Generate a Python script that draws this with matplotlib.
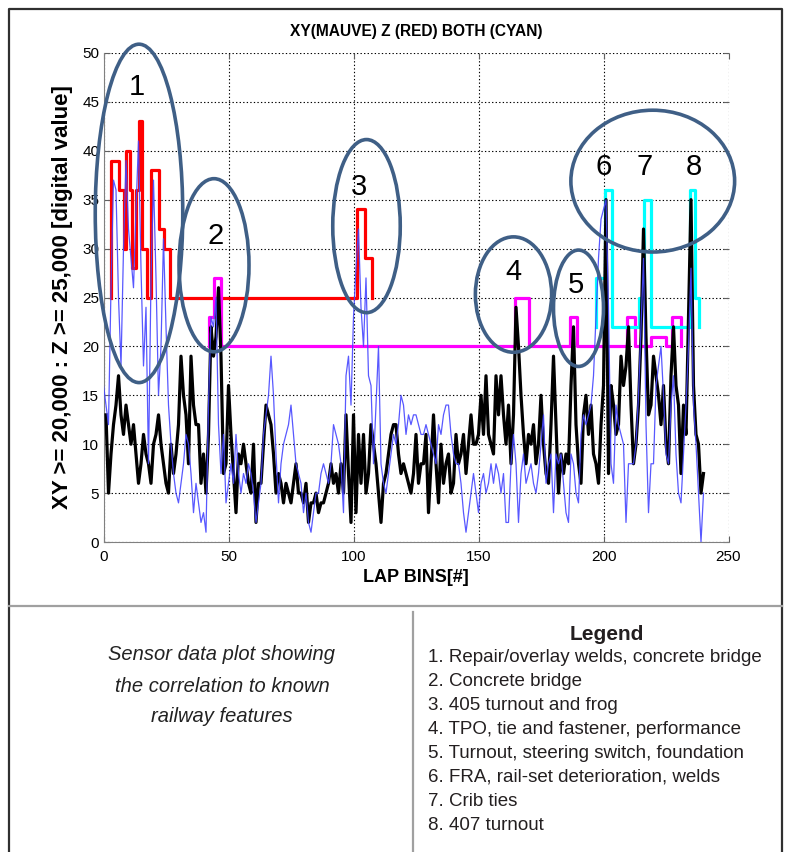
import numpy as np
import matplotlib
matplotlib.use('Agg')
import matplotlib.pyplot as plt
from matplotlib.patches import Ellipse
from matplotlib.lines import Line2D

plt.rcParams['font.family'] = ['Liberation Sans', 'DejaVu Sans']

# black trace (bins 1..240)
black_y = [13, 5, 9, 12, 14, 17, 13, 11, 14, 12,
           10, 12, 9, 6, 8, 11, 9, 8, 6, 10,
           11, 13, 10, 8, 6, 5, 10, 7, 9, 12,
           19, 15, 13, 8, 19, 14, 12, 12, 6, 9,
           5, 11, 22, 19, 21, 26, 19, 7, 8, 16,
           11, 7, 3, 9, 8, 10, 8, 6, 5, 10,
           2, 6, 6, 10, 14, 13, 12, 9, 5, 7,
           6, 4, 6, 5, 4, 6, 8, 5, 5, 4,
           6, 2, 4, 4, 5, 3, 4, 4, 5, 6,
           8, 6, 7, 5, 8, 5, 13, 7, 2, 13,
           3, 11, 6, 11, 5, 7, 12, 10, 8, 5,
           2, 6, 7, 9, 11, 12, 12, 9, 7, 8,
           7, 6, 5, 7, 11, 6, 8, 8, 11, 3,
           8, 13, 8, 4, 10, 6, 8, 9, 5, 6,
           11, 8, 9, 11, 7, 10, 13, 10, 10, 11,
           15, 11, 17, 11, 10, 9, 17, 13, 17, 13,
           10, 14, 8, 13, 24, 20, 15, 11, 8, 11,
           10, 12, 8, 10, 15, 10, 7, 6, 12, 19,
           12, 5, 9, 7, 9, 8, 16, 22, 12, 8,
           6, 13, 15, 11, 14, 9, 8, 6, 12, 16,
           35, 7, 16, 14, 11, 12, 19, 16, 18, 22,
           14, 8, 10, 14, 21, 32, 21, 13, 14, 19,
           17, 15, 12, 16, 10, 8, 17, 22, 16, 14,
           7, 14, 11, 23, 35, 16, 11, 10, 5, 7]
black_x = np.arange(1, len(black_y) + 1)

# thin blue trace (bins 0..240)
blue_y = [16, 14, 12, 26, 37, 36, 25, 18, 30, 39,
          32, 29, 26, 34, 41, 28, 18, 24, 8, 27,
          37, 27, 15, 20, 31, 22, 14, 10, 7, 5,
          4, 6, 8, 11, 10, 7, 3, 6, 4, 2,
          3, 1, 14, 23, 22, 25, 12, 7, 11, 4,
          6, 8, 6, 11, 7, 5, 7, 6, 8, 7,
          5, 2, 4, 6, 11, 13, 15, 19, 15, 9,
          4, 8, 10, 11, 12, 14, 11, 8, 7, 6,
          3, 5, 2, 1, 3, 5, 5, 7, 8, 7,
          6, 8, 12, 11, 10, 8, 3, 17, 19, 14,
          23, 28, 32, 24, 20, 27, 17, 16, 8, 14,
          20, 8, 6, 5, 7, 9, 11, 10, 12, 15,
          14, 11, 13, 12, 13, 13, 12, 11, 11, 12,
          11, 10, 9, 8, 12, 11, 13, 14, 14, 11,
          9, 8, 8, 6, 3, 1, 3, 5, 7, 5,
          3, 6, 7, 5, 6, 8, 6, 8, 7, 5,
          7, 2, 2, 8, 11, 8, 2, 7, 9, 6,
          7, 8, 6, 5, 7, 10, 13, 6, 8, 9,
          3, 9, 8, 9, 6, 3, 2, 9, 8, 5,
          4, 11, 13, 12, 13, 14, 17, 23, 29, 33,
          34, 35, 24, 8, 6, 14, 12, 11, 10, 2,
          8, 8, 8, 10, 15, 22, 29, 12, 3, 8,
          8, 16, 18, 20, 15, 9, 8, 14, 17, 9,
          5, 4, 9, 14, 20, 28, 14, 10, 5, 0, 5]
blue_x = np.arange(0, len(blue_y))

# step thresholds: Z (red), XY (mauve), both (cyan)
red_x = [3, 3, 6, 8, 9, 10.5, 11.5, 13, 14, 15.5, 17.5, 19, 22, 24, 26.5, 101.5, 104.5, 107.5]
red_y = [25, 39, 36, 30, 40, 36, 28, 36, 43, 30, 25, 38, 32, 30, 25, 34, 29, 25]
mag_x = [42, 42, 44, 47, 164.5, 170, 186.5, 189.5, 209.5, 212.5, 219, 225, 227.5, 231]
mag_y = [20, 23, 27, 20, 25, 20, 23, 20, 23, 20, 21, 20, 23, 20]
cyan_x = [197, 197, 200.5, 203.5, 214, 216, 219, 234.5, 236.5, 238]
cyan_y = [22, 27, 36, 22, 25, 35, 22, 36, 25, 22]

# feature ellipses: centre x, centre y, width, height (data units)
feat_ell = [(14.2, 33.6, 35, 34.6), (44.2, 28.3, 28, 17.7), (105.2, 32.3, 27, 17.7),
            (164.0, 25.3, 30.5, 11.8), (190.0, 23.9, 20, 11.9), (219.7, 36.9, 65.5, 14.5)]
num_pos = {'1': (13.5, 46.5), '2': (45, 31.3), '3': (102, 36.3), '4': (164, 27.6),
           '5': (189, 26.3), '6': (200, 38.3), '7': (216.5, 38.3), '8': (236, 38.3)}

title = 'XY(MAUVE) Z (RED) BOTH (CYAN)'
caption = ['Sensor data plot showing', 'the correlation to known', 'railway features']
legend_items = ['1. Repair/overlay welds, concrete bridge', '2. Concrete bridge',
                '3. 405 turnout and frog', '4. TPO, tie and fastener, performance',
                '5. Turnout, steering switch, foundation', '6. FRA, rail-set deterioration, welds',
                '7. Crib ties', '8. 407 turnout']

W, H = 791, 852
fig = plt.figure(figsize=(W / 100, H / 100), dpi=100)
fig.patch.set_facecolor('white')
ax = fig.add_axes([103.5 / W, 1 - 542 / H, 625 / W, 489 / H])

ax.step(red_x, red_y, where='post', color='#ff0000', lw=2.3, zorder=2)
ax.step(mag_x, mag_y, where='post', color='#ff00ff', lw=2.3, zorder=2)
ax.step(cyan_x, cyan_y, where='post', color='#00ffff', lw=2.3, zorder=2)
ax.plot(black_x, black_y, color='black', lw=2.3, zorder=3)
ax.plot(blue_x, blue_y, color='#4646ff', lw=0.9, alpha=0.9, zorder=4)

ax.set_xlim(0, 250)
ax.set_ylim(0, 50)
ax.set_xticks(range(0, 251, 50))
ax.set_yticks(range(0, 51, 5))
ax.grid(True, linestyle=(0, (1.2, 2.0)), color='black', lw=0.8)
ax.set_axisbelow(True)
for s in ['top', 'right']:
    ax.spines[s].set_visible(False)
for s in ['left', 'bottom']:
    ax.spines[s].set_color('#808080')
ax.tick_params(direction='in', length=4, top=True, right=True, labelsize=11, color='#606060', pad=3)
ax.tick_params(axis='x', pad=6)

ax.set_title(title, fontsize=11.2, fontweight='bold', pad=12)
ax.set_xlabel('LAP BINS[#]', fontsize=13, fontweight='bold', labelpad=3)
ax.set_ylabel('XY >= 20,000 : Z >= 25,000 [digital value]', fontsize=16, fontweight='bold', labelpad=7)

ell_col = '#3f5f86'
for cx, cy, ew, eh in feat_ell:
    ax.add_patch(Ellipse((cx, cy), ew, eh, fill=False, ec=ell_col, lw=2.6, zorder=6, clip_on=False))
for k, (px, py) in num_pos.items():
    ax.text(px, py, k, fontsize=21, ha='center', va='center', zorder=7, clip_on=False)

# page frame and separators
fig.add_artist(Line2D([9 / W, 9 / W, 782 / W, 782 / W], [0, 1 - 9 / H, 1 - 9 / H, 0], color='#303030', lw=1.6))
fig.add_artist(Line2D([9 / W, 782 / W], [1 - 606 / H, 1 - 606 / H], color='#a0a0a0', lw=1.6))
fig.add_artist(Line2D([413 / W, 413 / W], [0, 1 - 612 / H], color='#a0a0a0', lw=1.6))

for i, line in enumerate(caption):
    fig.text(222 / W, 1 - (655 + 31 * i) / H, line, ha='center', va='center',
             style='italic', fontsize=14.5, color='#222222')
fig.text(607 / W, 1 - 634 / H, 'Legend', ha='center', va='center', fontsize=15,
         fontweight='bold', color='#231f20')
for i, line in enumerate(legend_items):
    fig.text(428 / W, 1 - (658 + 23.86 * i) / H, line, ha='left', va='center',
             fontsize=13.5, color='#231f20')

fig.savefig('out.png', dpi=100)
